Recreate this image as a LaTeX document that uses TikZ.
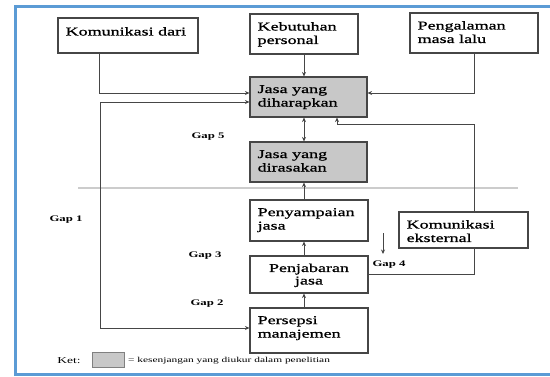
\documentclass[tikz,border=0pt]{standalone}
\usepackage{fontspec}
\setmainfont{Liberation Serif}[FakeStretch=1.5]
\newfontfamily\boxfont{Liberation Serif}[FakeStretch=1.5, FakeBold=1]
\usetikzlibrary{arrows.meta}
\definecolor{frameblue}{RGB}{91,155,213}
\definecolor{boxgray}{RGB}{200,200,200}
\definecolor{linegray}{RGB}{70,70,70}
\begin{document}
\begin{tikzpicture}[x=1pt,y=-1pt,
  box/.style={draw=linegray, line width=1.1pt, fill=white, inner sep=0pt},
  gbox/.style={box, fill=boxgray},
  txt/.style={anchor=north west, inner xsep=8pt, inner ysep=8.5pt, align=left, font=\boxfont\fontsize{12}{13.5}\selectfont},
  txtc/.style={anchor=north, inner xsep=4pt, inner ysep=8pt, align=center, font=\boxfont\fontsize{12}{12.5}\selectfont},
  conn/.style={draw=linegray, line width=1pt},
  arr/.style={conn, -{Stealth[length=4.5pt,width=4pt]}},
  darr/.style={conn, {Stealth[length=4.5pt,width=4pt]}-{Stealth[length=4.5pt,width=4pt]}},
  gap/.style={font=\fontsize{8.5}{10}\selectfont\bfseries, inner sep=1pt},
  sepline/.style={draw=black!20, line width=2pt}]
\useasboundingbox (0,0) rectangle (550,376);
\fill[white] (0,0) rectangle (550,376);

% separator line
\draw[sepline] (78,188) -- (518,188);

% boxes
\node[box, minimum width=140pt, minimum height=35pt, label={[txt, inner ysep=9.5pt]north west:Komunikasi dari}] (kd) at (128,35.5) {};
\node[box, minimum width=108pt, minimum height=40pt, label={[txt]north west:Kebutuhan\\personal}] (kp) at (304,34) {};
\node[box, minimum width=128pt, minimum height=40pt, label={[txt]north west:Pengalaman\\masa lalu}] (pm) at (474,33) {};
\node[gbox, minimum width=117pt, minimum height=40pt, label={[txt]north west:Jasa yang\\diharapkan}] (jh) at (308.5,97) {};
\node[gbox, minimum width=117pt, minimum height=40pt, label={[txt]north west:Jasa yang\\dirasakan}] (jr) at (308.5,162) {};
\node[box, minimum width=118pt, minimum height=41pt, label={[txt]north west:Penyampaian\\jasa}] (ps) at (309,220.5) {};
\node[box, minimum width=118pt, minimum height=37pt, label={[txtc]north:Penjabaran\\jasa}] (pj) at (309,274.5) {};
\node[box, minimum width=118pt, minimum height=45pt, label={[txt]north west:Persepsi\\manajemen}] (pr) at (309,330.5) {};
\node[box, minimum width=129pt, minimum height=36pt, label={[txt]north west:Komunikasi\\eksternal}] (ke) at (463.5,230) {};

% helper coordinates
\coordinate (g1) at (100,328);
\coordinate (c5) at (337,124);
\coordinate (g4a) at (383,233);
\coordinate (g4b) at (383,254);

% connectors
\draw[arr] ([xshift=42pt]kd.south west) |- ([yshift=4pt]jh.west);
\draw[darr] ([yshift=-5pt]jh.west) -| (g1) -- ([yshift=2.5pt]pr.west);
\draw[arr] (kp.south) -- (kp.south |- jh.north);
\draw[arr] (pm.south) |- ([yshift=4pt]jh.east);
\draw[darr] (kp.south |- jh.south) -- (kp.south |- jr.north);
\draw[arr] (pm.south |- ke.north) |- (c5) -- (c5 |- jh.south);
\draw[arr] (kp.south |- ps.north) -- (kp.south |- jr.south);
\draw[arr] (kp.south |- pj.north) -- (kp.south |- ps.south);
\draw[arr] (kp.south |- pr.north) -- (kp.south |- pj.south);
\draw[conn] (pj.east) -| (pm.south |- ke.south);
\draw[arr] (g4a) -- (g4b);

% gap labels
\node[gap] (gap5) at (208,137) {Gap 5};
\node[gap] (gap1) at (66,220) {Gap 1};
\node[gap] (gap3) at (205,256) {Gap 3};
\node[gap] (gap2) at (207,304) {Gap 2};
\node[gap] (gap4) at (389,265) {Gap 4};

% legend
\node[font=\fontsize{9}{10}\selectfont, inner sep=0pt] (ket) at (69,361) {Ket:};
\node[draw=black!50, line width=1pt, fill=boxgray, minimum width=32pt, minimum height=15pt, inner sep=0pt] (kbox) at (108,359.5) {};
\node[anchor=west, font=\fontsize{7.6}{9}\selectfont, inner sep=0pt] (ketx) at (128,361) {= kesenjangan yang diukur dalam penelitian};

% frame
\draw[frameblue, line width=3pt] (550,6) -- (15,6) -- (15,374.5) -- (550,374.5);
\end{tikzpicture}
\end{document}
